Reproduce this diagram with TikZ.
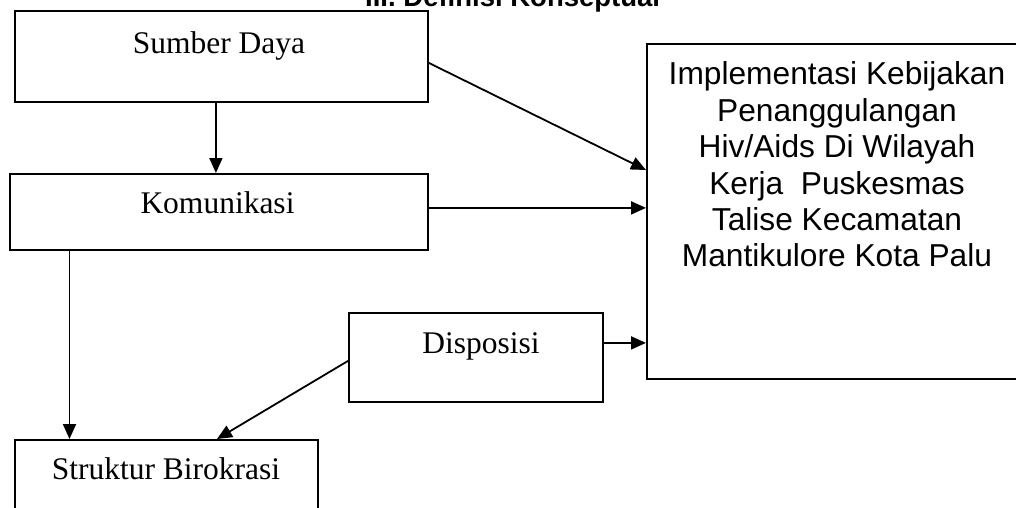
\documentclass[tikz,border=0pt]{standalone}
\usepackage{fontspec}
\setmainfont{Liberation Serif}
\newfontfamily\arialf{Liberation Sans}
\usetikzlibrary{arrows.meta,calc}
\begin{document}
\begin{tikzpicture}[x=1pt,y=-1pt,
  box/.style={draw,line width=1.8pt,rectangle,inner sep=0pt,anchor=north west},
  lbl/.style={anchor=base,inner sep=0pt,font=\fontsize{31.5}{36}\selectfont},
  conn/.style={line width=1.8pt,-{Triangle[length=15pt,width=13pt]}}]
\useasboundingbox (0,0) rectangle (1016,507);
\clip (0,0) rectangle (1016,507);
\node[anchor=base west,inner sep=0pt,font=\arialf\bfseries\fontsize{27.5}{32}\selectfont] (title) at (365,6) {III. Definisi Konseptual};
\node[box,minimum width=413pt,minimum height=91pt] (sd) at (14,10) {};
\node[lbl] (sdt) at (219,53) {Sumber Daya};
\node[box,minimum width=418pt,minimum height=76pt] (kom) at (9,173) {};
\node[lbl] (komt) at (217.5,213) {Komunikasi};
\node[box,minimum width=254pt,minimum height=89pt] (dis) at (348,312) {};
\node[lbl] (dist) at (481,353) {Disposisi};
\node[box,minimum width=303pt,minimum height=100pt] (str) at (14,439) {};
\node[lbl] (strt) at (166,479) {Struktur Birokrasi};
\node[box,minimum width=382pt,minimum height=335pt] (big) at (646,43) {};
\node[anchor=north,inner sep=0pt,align=center,font=\arialf\fontsize{31.7}{36.4}\selectfont] (bigt) at (837,61.7)
  {Implementasi Kebijakan\\Penanggulangan\\Hiv/Aids Di Wilayah\\Kerja\ \ Puskesmas\\Talise Kecamatan\\Mantikulore Kota Palu};
% connectors
\draw[conn] ([xshift=-5.5pt]sd.south) -- ([xshift=-5.5pt]sd.south |- kom.north);
\draw[conn] ([yshift=-6.5pt]sd.east) -- ([yshift=-127pt]big.north west);
\draw[conn] ([yshift=4pt]kom.east) -- ([yshift=4pt]kom.east -| big.west);
\draw[conn] ([yshift=14.5pt]dis.east) -- ([yshift=14.5pt]dis.east -| big.west);
\draw[conn] ([xshift=60.5pt]kom.south west) -- ([xshift=60.5pt]kom.south west |- str.north);
\draw[conn] ([yshift=-3.5pt]dis.west) -- ([xshift=203pt]str.north west);
\end{tikzpicture}
\end{document}
